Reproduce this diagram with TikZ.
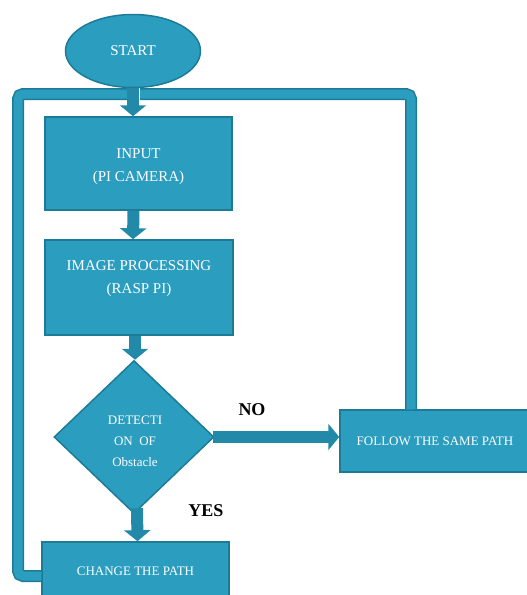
\documentclass[tikz,border=0pt]{standalone}
\usepackage{fontspec}
\setmainfont{Liberation Serif}
\usetikzlibrary{shapes.geometric,arrows.meta,calc}
\definecolor{boxfill}{RGB}{43,157,191}
\definecolor{boxedge}{RGB}{30,123,152}
\definecolor{shaft}{RGB}{35,137,168}

\begin{document}
\begin{tikzpicture}[x=1pt,y=-1pt,
  block/.style={rectangle,fill=boxfill,draw=boxedge,line width=1.5pt,inner sep=0pt},
  bigtext/.style={text=white,align=center,font={\fontsize{15}{23}\selectfont}},
  smalltext/.style={text=white,align=center,font={\fontsize{13}{21}\selectfont}},
  flow/.style={draw=shaft,line width=12pt,-{Triangle[width=26pt,length=11pt]}},
  loopline/.style={draw=boxedge,line width=1.5pt,double=boxfill,double distance=9pt,rounded corners=5pt},
  answer/.style={font={\fontsize{18}{20}\selectfont\bfseries},text=black}]
 \useasboundingbox (0,0) rectangle (527,595);
 \clip (0,0) rectangle (527,595);

 % the boxes
 \node[ellipse,fill=boxfill,draw=boxedge,line width=1.5pt,minimum width=135pt,minimum height=73pt,inner sep=0pt] (start) at (133,51) {};
 \node[block,minimum width=187pt,minimum height=93pt] (input) at (138.5,163.5) {};
 \node[block,minimum width=188pt,minimum height=95pt] (image) at (139,287.5) {};
 \node[diamond,fill=boxfill,draw=boxedge,line width=1.5pt,minimum width=160pt,minimum height=153pt,inner sep=0pt] (detect) at (134,437) {};
 \node[block,minimum width=187pt,minimum height=60pt] (change) at (135.5,572) {};
 \node[block,minimum width=190pt,minimum height=62pt] (follow) at (435,441) {};

 % the loop back to the input
 \coordinate (cornerL) at (18,94);
 \coordinate (cornerR) at (411,94);
 \coordinate (joinL) at (128,94);
 \coordinate (joinR) at (140,94);
 \draw[loopline] ($(change.west)+(0,4)$) -| (cornerL) -- (joinL);
 \draw[loopline] (follow.north -| cornerR) -- (cornerR) -- (joinR);

 % block arrows between the boxes
 \draw[flow] (start.south) -- (start.south |- input.north);
 \draw[flow] ($(input.south)+(-5,0)$) -- ($(image.north)+(-6,0)$);
 \draw[flow] ($(image.south)+(-4,0)$) -- ($(detect.north)+(1,0)$);
 \draw[flow] ($(detect.south)+(3,-6)$) -- ($(change.north)+(2,0)$);
 \draw[flow] ($(detect.east)+(-2,0)$) -- (detect.east -| follow.west);

 % texts
 \node[bigtext] (starttext) at (start.center) {START};
 \node[bigtext] (inputtext) at ($(input.center)+(0,3)$) {INPUT\\(PI CAMERA)};
 \node[bigtext] (imagetext) at ($(image.center)+(0,-9)$) {IMAGE PROCESSING\\(RASP PI)};
 \node[smalltext] (detecttext) at ($(detect.center)+(1,4)$) {DETECTI\\ON~~OF\\Obstacle};
 \node[smalltext] (changetext) at ($(change.center)+(0,-1)$) {CHANGE THE PATH};
 \node[smalltext] (followtext) at (follow.center) {FOLLOW THE SAME PATH};
 \node[answer] (no) at (252,410) {NO};
 \node[answer] (yes) at (206,511) {YES};
\end{tikzpicture}
\end{document}
